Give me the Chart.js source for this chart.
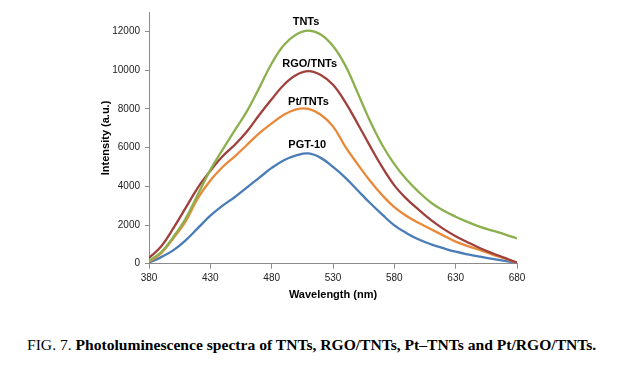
<!DOCTYPE html>
<html>
<head>
<meta charset="utf-8">
<script src="https://cdn.jsdelivr.net/npm/chart.js@4/dist/chart.umd.min.js"></script>
<style>
  html, body { margin: 0; padding: 0; background: #ffffff; }
  body { width: 641px; height: 368px; position: relative; overflow: hidden; }
  #wrap { position: absolute; left: 0; top: 0; width: 641px; height: 320px; }
  #caption {
    position: absolute; left: 27px; top: 336px; white-space: nowrap;
    font-family: "Liberation Serif", "Times New Roman", serif; font-size: 15.6px; line-height: 18px; color: #000;
    font-weight: bold;
  }
  #caption .lead { font-weight: normal; }
</style>
</head>
<body>
<div id="wrap"><canvas id="c" width="641" height="320"></canvas></div>
<div id="caption"><span class="lead">FIG. 7.</span> Photoluminescence spectra of TNTs, RGO/TNTs, Pt–TNTs and Pt/RGO/TNTs.</div>
<script>
// ---- data ----
const wavelengths = [380,390,400,410,420,430,440,450,460,470,480,490,500,510,520,530,540,550,560,570,580,590,600,610,620,630,640,650,660,670,680];
const seriesNames = ["TNTs", "RGO/TNTs", "Pt/TNTs", "PGT-10"];
const tnts    = [150,600,1400,2350,3600,4850,5900,6900,7900,9100,10350,11300,11850,12050,11850,11250,10250,8850,7400,6150,5150,4350,3700,3150,2750,2430,2150,1900,1710,1520,1310];
const rgoTnts = [300,900,1850,2900,3950,4800,5550,6150,6850,7700,8500,9250,9750,9950,9750,9250,8350,7250,6100,5000,4050,3350,2780,2250,1800,1420,1100,800,540,300,50];
const ptTnts  = [100,550,1330,2200,3400,4300,5000,5550,6150,6750,7250,7700,7980,8000,7700,7100,6050,5150,4300,3550,2920,2470,2100,1780,1460,1140,910,700,470,270,50];
const pgt10   = [50,340,700,1220,1850,2480,3000,3450,3950,4450,4950,5350,5600,5700,5470,5000,4450,3800,3150,2550,1980,1580,1250,1000,800,620,480,360,250,150,50];
const xTicks = [380,430,480,530,580,630,680];
const yTicks = [0,2000,4000,6000,8000,10000,12000];
// curve labels: [text, wavelength, intensity]
const curveLabels = [["TNTs",508,12500],["RGO/TNTs",511,10320],["Pt/TNTs",510,8360],["PGT-10",509,6140]];

const colors = ["#8cb04d", "#a0403c", "#e8893a", "#4a7cb8"];
const allSeries = [tnts, rgoTnts, ptTnts, pgt10];

const datasets = allSeries.map((vals, i) => ({
  label: seriesNames[i],
  data: wavelengths.map((w, j) => ({x: w, y: vals[j]})),
  borderColor: colors[i],
  backgroundColor: colors[i],
  borderWidth: 2.3,
  pointRadius: 0,
  tension: 0.4,
  fill: false
}));

const labelPlugin = {
  id: 'curveLabels',
  afterDatasetsDraw(chart) {
    const {ctx, scales} = chart;
    ctx.save();
    ctx.font = 'bold 11px "Liberation Sans", Arial, sans-serif';
    ctx.fillStyle = '#000';
    ctx.textAlign = 'center';
    ctx.textBaseline = 'middle';
    curveLabels.forEach(([t, xv, yv]) => {
      ctx.fillText(t, scales.x.getPixelForValue(xv), scales.y.getPixelForValue(yv));
    });
    ctx.restore();
  }
};

const axisFont = {family: '"Liberation Sans", Arial, sans-serif', size: 10};
const titleFont = {family: '"Liberation Sans", Arial, sans-serif', size: 11, weight: 'bold'};

new Chart(document.getElementById('c'), {
  type: 'line',
  data: {datasets},
  options: {
    responsive: false,
    animation: false,
    events: [],
    layout: {padding: {left: 99.4, right: 124, top: 12.2, bottom: 18.4}},
    plugins: {legend: {display: false}, tooltip: {enabled: false}},
    scales: {
      x: {
        type: 'linear', min: 380, max: 680,
        afterBuildTicks: s => { s.ticks = xTicks.map(v => ({value: v})); },
        afterFit: s => { s.height = 37.9; },
        grid: {display: true, drawOnChartArea: false, drawTicks: true, tickLength: 5, color: '#8c8c8c'},
        border: {display: true, color: '#8c8c8c', width: 1},
        ticks: {font: axisFont, color: '#222', padding: 4, maxRotation: 0, callback: v => String(v)},
        title: {display: true, text: 'Wavelength (nm)', font: titleFont, color: '#000', padding: {top: 0, bottom: 0}}
      },
      y: {
        type: 'linear', min: 0, max: 13000,
        afterBuildTicks: s => { s.ticks = yTicks.map(v => ({value: v})); },
        afterFit: s => { s.width = 49.6; },
        grid: {display: true, drawOnChartArea: false, drawTicks: true, tickLength: 4, color: '#8c8c8c'},
        border: {display: true, color: '#8c8c8c', width: 1},
        ticks: {font: axisFont, color: '#222', padding: 5, callback: v => String(v)},
        title: {display: true, text: 'Intensity (a.u.)', font: titleFont, color: '#000', padding: {top: 0, bottom: 0}}
      }
    }
  },
  plugins: [labelPlugin]
});
</script>
</body>
</html>
